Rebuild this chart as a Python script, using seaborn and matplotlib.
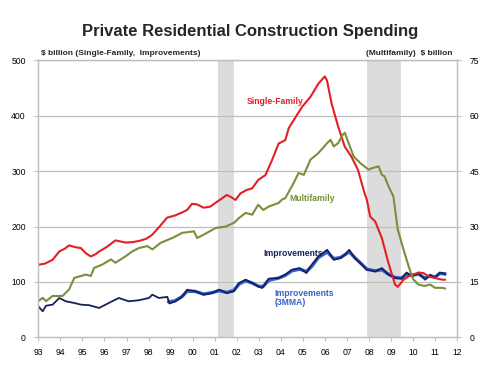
import pandas as pd
import seaborn as sns
import matplotlib
matplotlib.use("Agg")
import matplotlib.pyplot as plt

# Single-family (left axis, $ billion)
sf_year = [1993.0, 1993.3, 1993.65, 1993.95, 1994.2, 1994.4, 1994.65, 1994.93, 1995.15, 1995.38,
           1995.6, 1995.76, 1996.1, 1996.5, 1996.96, 1997.3, 1997.57, 1997.9, 1998.16, 1998.5,
           1998.84, 1999.2, 1999.5, 1999.75, 1999.97, 2000.2, 2000.5, 2000.8, 2001.04, 2001.3,
           2001.55, 2001.75, 2001.94, 2002.17, 2002.45, 2002.7, 2002.97, 2003.3, 2003.6, 2003.9,
           2004.2, 2004.36, 2004.58, 2004.96, 2005.34, 2005.7, 2005.99, 2006.09, 2006.3, 2006.6,
           2006.9, 2007.2, 2007.5, 2007.75, 2007.9, 2008.05, 2008.28, 2008.58, 2008.88, 2009.18,
           2009.3, 2009.56, 2009.79, 2010.24, 2010.47, 2010.7, 2010.99, 2011.33, 2011.45]
sf_value = [131, 133, 140, 155, 160, 166, 163, 161, 152, 146,
            150, 155, 163, 175, 171, 172, 174, 178, 185, 200,
            216, 220, 225, 230, 241, 240, 234, 236, 243, 250,
            257, 253, 248, 260, 266, 269, 284, 293, 320, 350,
            356, 378, 392, 416, 434, 458, 471, 464, 422, 380,
            344, 326, 302, 266, 248, 218, 209, 179, 134, 95,
            91, 104, 110, 117, 116, 110, 107, 104, 104]

# Multifamily (right axis, $ billion)
mf_year = [1993.0, 1993.2, 1993.35, 1993.65, 1994.1, 1994.4, 1994.63, 1994.93, 1995.16, 1995.38,
           1995.53, 1995.9, 1996.29, 1996.5, 1996.97, 1997.27, 1997.57, 1997.95, 1998.17, 1998.55,
           1999.08, 1999.53, 2000.06, 2000.2, 2000.5, 2001.04, 2001.5, 2001.87, 2002.1, 2002.4,
           2002.7, 2002.97, 2003.2, 2003.45, 2003.9, 2004.05, 2004.2, 2004.58, 2004.8, 2005.04,
           2005.34, 2005.7, 2006.1, 2006.25, 2006.4, 2006.6, 2006.8, 2006.9, 2007.07, 2007.3,
           2007.6, 2007.98, 2008.13, 2008.43, 2008.58, 2008.7, 2008.88, 2009.1, 2009.3, 2009.56,
           2009.79, 2010.0, 2010.24, 2010.5, 2010.77, 2010.99, 2011.33, 2011.45]
mf_value = [9.8, 10.7, 9.8, 11.2, 11.2, 13.0, 16.1, 16.6, 17.0, 16.6,
            18.8, 19.7, 21.1, 20.2, 22.0, 23.3, 24.2, 24.7, 23.8, 25.6,
            26.9, 28.3, 28.7, 26.9, 27.8, 29.6, 30.0, 31.0, 32.3, 33.7,
            33.2, 35.9, 34.5, 35.4, 36.4, 37.3, 37.7, 41.8, 44.5, 44.0,
            48.1, 49.9, 52.6, 53.5, 51.7, 52.6, 54.8, 55.4, 52.6, 49.0,
            47.2, 45.4, 45.8, 46.3, 44.0, 43.6, 40.9, 38.2, 29.2, 23.8,
            19.3, 15.7, 14.3, 13.9, 14.3, 13.4, 13.4, 13.2]

# Improvements (left axis)
imp_year = [1993.0, 1993.2, 1993.35, 1993.65, 1993.95, 1994.25, 1994.63, 1994.93, 1995.3, 1995.76,
            1996.2, 1996.65, 1997.1, 1997.57, 1998.02, 1998.17, 1998.47, 1998.85, 1998.95, 1999.22,
            1999.53, 1999.75, 2000.13, 2000.5, 2000.9, 2001.2, 2001.55, 2001.87, 2002.1, 2002.4,
            2002.7, 2002.97, 2003.15, 2003.45, 2003.9, 2004.2, 2004.5, 2004.85, 2005.16, 2005.34,
            2005.7, 2006.1, 2006.4, 2006.7, 2006.9, 2007.1, 2007.35, 2007.67, 2007.9, 2008.28,
            2008.58, 2008.88, 2009.18, 2009.48, 2009.7, 2009.94, 2010.24, 2010.54, 2010.77, 2010.99,
            2011.2, 2011.33, 2011.45]
imp_value = [56, 47, 57, 59, 71, 65, 62, 59, 58, 53,
             62, 71, 65, 67, 71, 77, 71, 73, 61, 65,
             74, 86, 83, 77, 80, 86, 80, 83, 98, 104,
             98, 92, 89, 106, 107, 113, 122, 125, 116, 128,
             146, 158, 140, 143, 149, 158, 143, 131, 122, 119,
             125, 113, 107, 106, 117, 110, 116, 104, 113, 107,
             117, 116, 113]

# Improvements, 3-month moving average (left axis)
mma_year = [1998.9, 1999.2, 1999.5, 1999.75, 2000.1, 2000.5, 2000.9, 2001.2, 2001.55, 2001.87,
            2002.1, 2002.4, 2002.7, 2003.0, 2003.2, 2003.45, 2003.9, 2004.2, 2004.5, 2004.85,
            2005.16, 2005.4, 2005.7, 2006.1, 2006.4, 2006.7, 2006.9, 2007.1, 2007.35, 2007.67,
            2007.9, 2008.28, 2008.58, 2008.88, 2009.18, 2009.48, 2009.7, 2009.94, 2010.24, 2010.54,
            2010.77, 2010.99, 2011.2, 2011.45]
mma_value = [64, 66, 73, 83, 83, 78, 81, 84, 81, 85,
             96, 102, 98, 92, 92, 103, 107, 112, 120, 123,
             119, 128, 144, 154, 142, 144, 149, 154, 144, 132,
             123, 120, 122, 114, 108, 107, 114, 112, 114, 107,
             111, 109, 115, 115]

recessions = [(2001.17, 2001.875), (2007.92, 2009.46)]
year_ticks = list(range(1993, 2013))
year_labels = [f"{y % 100:02d}" for y in year_ticks]

red = "#E41E26"
olive = "#77903A"
navy = "#16205E"
blue = "#3461C9"
grid_grey = "#BFBFBF"

sns.set_style("white")
plt.rcParams["font.family"] = ["Liberation Sans", "DejaVu Sans"]

sf = pd.DataFrame({"year": sf_year, "value": sf_value})
mf = pd.DataFrame({"year": mf_year, "value": mf_value})
imp = pd.DataFrame({"year": imp_year, "value": imp_value})
mma = pd.DataFrame({"year": mma_year, "value": mma_value})

fig = plt.figure(figsize=(5, 3.75), dpi=100)
ax = fig.add_axes([0.0766, 0.1005, 0.838, 0.7385])
ax2 = ax.twinx()

# recession shading
for start, end in recessions:
    ax.axvspan(start, end, color="#DCDCDC", lw=0, zorder=0)

ax.set_ylim(0, 500)
ax.set_yticks(range(0, 501, 100))
for yv in range(100, 501, 100):
    ax.axhline(yv, color=grid_grey, lw=0.9, zorder=1)

sns.lineplot(data=mma, x="year", y="value", ax=ax, color=blue, linewidth=2.4, zorder=3)
sns.lineplot(data=imp, x="year", y="value", ax=ax, color=navy, linewidth=1.3, zorder=4)
sns.lineplot(data=sf, x="year", y="value", ax=ax, color=red, linewidth=1.5, zorder=5)
sns.lineplot(data=mf, x="year", y="value", ax=ax2, color=olive, linewidth=1.5)

ax.set_xlim(1993, 2012)
ax.set_xticks(year_ticks)
ax.set_xticklabels(year_labels)
ax2.set_ylim(0, 75)
ax2.set_yticks(range(0, 76, 15))

for a in (ax, ax2):
    a.set_xlabel("")
    a.set_ylabel("")
    for sp in a.spines.values():
        sp.set_color(grid_grey)
        sp.set_linewidth(0.9)
    a.tick_params(axis="both", labelsize=6.2, colors=grid_grey, labelcolor="black",
                  length=3, width=0.8, pad=4)
ax.tick_params(axis="y", left=True, pad=6)
ax2.tick_params(axis="y", right=True, pad=6)
ax.tick_params(axis="x", bottom=True, pad=5)

fig.text(0.5, 0.917, "Private Residential Construction Spending", ha="center", va="center",
         fontsize=12, fontweight="bold")
fig.text(0.082, 0.858, "$ billion (Single-Family,  Improvements)", ha="left", va="center",
         fontsize=6, fontweight="bold")
fig.text(0.906, 0.858, "(Multifamily)  $ billion", ha="right", va="center",
         fontsize=6, fontweight="bold")

ax.text(2002.45, 425, "Single-Family", color=red, fontsize=6.2, fontweight="bold", va="center")
ax.text(2004.4, 251, "Multifamily", color=olive, fontsize=6.2, fontweight="bold", va="center")
ax.text(2003.2, 152, "Improvements", color=navy, fontsize=6.2, fontweight="bold", va="center")
ax.text(2003.7, 71, "Improvements\n(3MMA)", color=blue, fontsize=6.2, fontweight="bold",
        va="center", linespacing=1.1)

plt.savefig("out.png", dpi=100)
